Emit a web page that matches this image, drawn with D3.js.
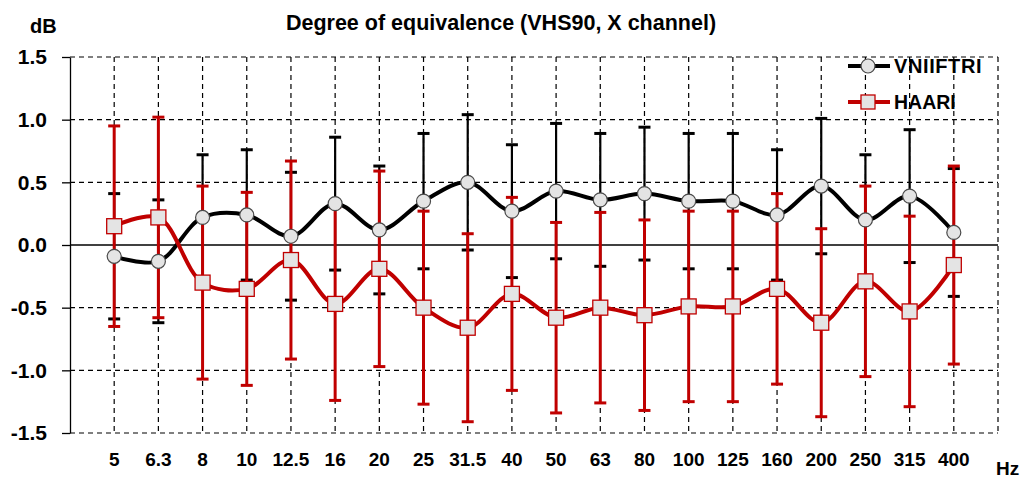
<!DOCTYPE html>
<html>
<head>
<script src="https://d3js.org/d3.v7.min.js"></script>
<style>
  body { margin: 0; background: #fff; }
  text { font-family: "Liberation Sans", Arial, sans-serif; font-weight: bold; }
</style>
</head>
<body>
<div id="vis"></div>
<script>
// frequencies (category labels)
const freqs = ["5", "6.3", "8", "10", "12.5", "16", "20", "25", "31.5", "40",
               "50", "63", "80", "100", "125", "160", "200", "250", "315", "400"];

// VNIIFTRI degree of equivalence and its expanded uncertainty, dB
const vniiftri  = [-0.09, -0.13, 0.22, 0.24, 0.07, 0.33, 0.12, 0.35, 0.50, 0.27,
                    0.43, 0.36, 0.41, 0.35, 0.35, 0.24, 0.47, 0.20, 0.39, 0.10];
const vniiftriU = [0.50, 0.49, 0.50, 0.52, 0.51, 0.53, 0.51, 0.54, 0.54, 0.53,
                   0.54, 0.53, 0.53, 0.54, 0.54, 0.52, 0.54, 0.52, 0.53, 0.51];

// HAARI degree of equivalence and its expanded uncertainty, dB
const haari  = [0.15, 0.22, -0.30, -0.35, -0.12, -0.47, -0.19, -0.50, -0.66, -0.39,
                -0.58, -0.50, -0.56, -0.49, -0.49, -0.35, -0.62, -0.29, -0.53, -0.16];
const haariU = [0.80, 0.80, 0.77, 0.77, 0.79, 0.77, 0.78, 0.77, 0.75, 0.77,
                0.76, 0.76, 0.76, 0.76, 0.76, 0.76, 0.75, 0.76, 0.76, 0.79];

const yTicks = [-1.5, -1.0, -0.5, 0.0, 0.5, 1.0, 1.5];

const width = 1025, height = 481;
const plotL = 70, plotR = 998, plotT = 57, plotB = 433;
const red = "#c00000";

const svg = d3.select("#vis").append("svg")
  .attr("width", width)
  .attr("height", height);

const x = d3.scalePoint().domain(freqs).range([plotL, plotR]).padding(1);
const y = d3.scaleLinear().domain([-1.5, 1.5]).range([plotB, plotT]);

// grid
const grid = svg.append("g")
  .attr("stroke", "#000")
  .attr("stroke-width", 1.2)
  .attr("stroke-dasharray", "5,4");

grid.selectAll(".hg")
  .data(yTicks.filter(d => d !== 0))
  .enter().append("line")
  .attr("x1", plotL).attr("x2", plotR)
  .attr("y1", d => y(d)).attr("y2", d => y(d));

grid.selectAll(".vg")
  .data(freqs.concat(["_edge"]))
  .enter().append("line")
  .attr("x1", d => d === "_edge" ? plotR : x(d))
  .attr("x2", d => d === "_edge" ? plotR : x(d))
  .attr("y1", plotT).attr("y2", plotB);

// zero line
svg.append("line")
  .attr("x1", plotL).attr("x2", plotR)
  .attr("y1", y(0)).attr("y2", y(0))
  .attr("stroke", "#000").attr("stroke-width", 1.3);

// y axis
const yAxis = svg.append("g")
  .attr("transform", `translate(${plotL},0)`)
  .call(d3.axisLeft(y).tickValues(yTicks).tickSize(8).tickSizeOuter(0));
yAxis.selectAll("path, line").attr("stroke", "#000").attr("stroke-width", 1.3);
yAxis.selectAll("text")
  .attr("x", -23)
  .style("font-size", "21px")
  .attr("fill", "#000")
  .text(d => d3.format(".1f")(d).replace("−", "-"));

// x labels
svg.append("g").selectAll("text")
  .data(freqs)
  .enter().append("text")
  .attr("x", d => x(d))
  .attr("y", 466)
  .attr("text-anchor", "middle")
  .style("font-size", "19px")
  .text(d => d);

svg.append("text").attr("x", 996).attr("y", 475).style("font-size", "19px").text("Hz");
svg.append("text").attr("x", 30).attr("y", 33).style("font-size", "20px").text("dB");
svg.append("text").attr("x", 501).attr("y", 30).attr("text-anchor", "middle")
  .style("font-size", "21.5px").text("Degree of equivalence (VHS90, X channel)");

// error bars
function errorBars(vals, unc, color, lw) {
  const g = svg.append("g").attr("stroke", color);
  const rows = freqs.map((f, i) => ({ f, lo: vals[i] - unc[i], hi: vals[i] + unc[i] }));
  g.selectAll(".bar").data(rows).enter().append("line")
    .attr("x1", d => x(d.f)).attr("x2", d => x(d.f))
    .attr("y1", d => y(d.hi)).attr("y2", d => y(d.lo))
    .attr("stroke-width", lw);
  ["hi", "lo"].forEach(k => {
    g.selectAll(".cap" + k).data(rows).enter().append("line")
      .attr("x1", d => x(d.f) - 6).attr("x2", d => x(d.f) + 6)
      .attr("y1", d => y(d[k])).attr("y2", d => y(d[k]))
      .attr("stroke-width", 3);
  });
}
errorBars(vniiftri, vniiftriU, "#000", 2.2);
errorBars(haari, haariU, red, 3);

// lines
const line = d3.line()
  .x((d, i) => x(freqs[i]))
  .y(d => y(d))
  .curve(d3.curveCatmullRom);

svg.append("path").datum(vniiftri).attr("d", line)
  .attr("fill", "none").attr("stroke", "#000").attr("stroke-width", 4);
svg.append("path").datum(haari).attr("d", line)
  .attr("fill", "none").attr("stroke", red).attr("stroke-width", 4);

// markers
svg.append("g").selectAll("circle")
  .data(vniiftri).enter().append("circle")
  .attr("cx", (d, i) => x(freqs[i])).attr("cy", d => y(d))
  .attr("r", 7)
  .attr("fill", "#e4e4e4").attr("stroke", "#4a4a4a").attr("stroke-width", 1.2);

svg.append("g").selectAll("rect")
  .data(haari).enter().append("rect")
  .attr("x", (d, i) => x(freqs[i]) - 7.5).attr("y", d => y(d) - 7.5)
  .attr("width", 15).attr("height", 15)
  .attr("fill", "#e4e4e4").attr("stroke", red).attr("stroke-width", 1.3);

// legend
const legend = svg.append("g");
legend.append("line").attr("x1", 848).attr("x2", 890).attr("y1", 66).attr("y2", 66)
  .attr("stroke", "#000").attr("stroke-width", 4);
legend.append("circle").attr("cx", 868).attr("cy", 66).attr("r", 7)
  .attr("fill", "#e4e4e4").attr("stroke", "#4a4a4a").attr("stroke-width", 1.2);
legend.append("text").attr("x", 894).attr("y", 73).style("font-size", "20px")
  .attr("letter-spacing", "0.6px").text("VNIIFTRI");

legend.append("line").attr("x1", 848).attr("x2", 890).attr("y1", 102).attr("y2", 102)
  .attr("stroke", red).attr("stroke-width", 4);
legend.append("rect").attr("x", 861).attr("y", 95).attr("width", 14).attr("height", 14)
  .attr("fill", "#e4e4e4").attr("stroke", red).attr("stroke-width", 1.3);
legend.append("text").attr("x", 894).attr("y", 109).style("font-size", "19.5px").text("HAARI");
</script>
</body>
</html>
